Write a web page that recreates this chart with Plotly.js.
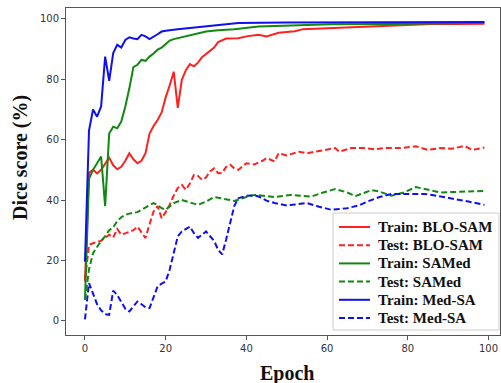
<!DOCTYPE html>
<html><head><meta charset="utf-8">
<script src="https://cdn.plot.ly/plotly-3.0.1.min.js"></script>
<style>html,body{margin:0;padding:0;background:#fff;overflow:hidden}#chart{width:501px;height:383px}</style>
</head><body><div id="chart"></div>
<script>
// Train: BLO-SAM
const trainBLO_x = [0,1,2,3,4,5,6,7,8,9,10,11,12,13,14,15,16,17,18,19,20,21,22,23,24,25,26,27,28,29,30,31,32,33,35,38,40,43,45,48,52,54,58,62,66,70,75,80,86,92,99];
const trainBLO_y = [13,49,50,48.8,50,52,54,51.5,50.2,51,53,55.5,53.5,52.2,53,55.5,62,64.5,66.5,69,74,78,82.5,70.5,79.8,83,85,84.3,85.5,87.3,88.3,89.5,90.5,92.3,93.5,93.6,94.2,94.7,94.2,95.4,95.9,96.6,96.8,96.9,97.3,97.5,97.7,98,98.3,98.3,98.4];
// Test: BLO-SAM
const testBLO_x = [0,1,2,3,4,5,6,7,8,9,10,11,12,13,14,15,16,17,18,19,20,21,22,23,24,25,26,27,28,29,30,31,32,33,34,35,36,37,38,40,42,44,45,47,48,50,53,55,57,60,62,63,66,69,72,74,78,82,85,88,91,94,96,99];
const testBLO_y = [13.6,25.2,25.7,26,26.5,27.5,28.5,27.6,30.4,28.5,29,29.6,30,31.2,29.5,27.4,32,36.2,38,34,36,38.4,41.5,44,45,43.4,45.5,48.3,48,46.7,47.5,49.5,50.5,48.9,49,51,51.7,50.5,50,52.2,51.8,53,53.9,52.8,55.5,54.8,56,55.5,56,56.6,57.2,56,57.2,57.2,56.8,57.2,57.2,57.8,56.6,57.2,57,57.9,56.6,57.4];
// Train: SAMed
const trainSAMed_x = [0,1,2,3,4,5,6,7,8,9,10,11,12,13,14,15,16,17,18,19,20,21,22,23,24,25,27,30,33,37,43,53,61,76,88,99];
const trainSAMed_y = [7,47,50,52,54.4,38,62,64.3,63.8,66,71,77,84,84.8,86.4,86.1,87.5,88.5,89.8,90.5,91.8,92.8,93.3,93.6,93.8,94.3,94.9,95.8,96.2,96.6,97.5,98,98.2,98.3,98.6,98.7];
// Test: SAMed
const testSAMed_x = [0,1,2,3,4,5,6,7,8,9,10,11,12,13,14,15,16,17,18,19,20,21,22,24,26,28,30,32,34,37,40,42,45,47,51,56,59,62,65,67,71,73,76,79,82,85,88,92,95,99];
const testSAMed_y = [7,17,22.4,24.5,26.5,28,30,31,33,34.3,35.1,35.5,35.7,36,36.8,37.5,38.4,39,38.3,37.3,36.8,37.8,39,40,39.2,38.4,39.5,41,40.5,39.7,41,41.7,41.3,41,41.7,41.1,42.5,43.6,42.5,41.3,43.3,42.8,41.4,42.5,44.3,43.5,42.5,42.7,42.8,43];
// Train: Med-SA
const trainMed_x = [0,1,2,3,4,5,6,7,8,9,10,11,12,13,14,15,16,17,18,19,20,23,26,28,31,38,50,70,99];
const trainMed_y = [19.6,63,70,67.6,71,87.5,79.5,88.7,91.4,90.5,93,93.9,93.5,93.3,94.7,94.2,93.3,94,94.9,95.8,96.1,96.6,97,97.5,97.8,98.6,98.8,98.9,99];
// Test: Med-SA
const testMed_x = [0,1,2,3,4,5,6,7,8,9,10,11,12,13,14,15,16,17,18,19,20,21,22,23,24,25,26,27,28,29,30,31,32,33,34,35,36,37,38,40,42,43,45,47,50,53,55,58,61,65,68,70,73,76,80,84,86,89,92,95,99];
const testMed_y = [0.5,12.5,9,5.5,3.5,2.2,2,10,8.5,6,4,3.1,4.8,6.4,5.5,4.5,4.2,8,11.4,12.3,13,17,22.5,28,29.6,30.5,31.2,29,27.5,28.5,29.6,28,26.5,23.5,22,27,33,38,40.6,41.4,41.5,41.2,39.8,39,38.2,38.8,39,37.8,36.8,37.3,38.3,39.5,41,42,42,42,41.7,41,40.3,39.5,38.4];

const names = ['Train: BLO-SAM','Test: BLO-SAM','Train: SAMed','Test: SAMed','Train: Med-SA','Test: Med-SA'];
const xs = [trainBLO_x,testBLO_x,trainSAMed_x,testSAMed_x,trainMed_x,testMed_x];
const ys = [trainBLO_y,testBLO_y,trainSAMed_y,testSAMed_y,trainMed_y,testMed_y];
const colors = ['#ff2020','#ff2020','#118811','#118811','#1010ee','#1010ee'];
const DASH = '6px,3px';

const traces = names.map((n,i)=>({
  x: xs[i], y: ys[i], name: n, type:'scatter', mode:'lines', showlegend:false,
  line:{color:colors[i], width:2, dash: (i%2===1) ? DASH : 'solid'}
}));

// plot area geometry (pixels) for legend placement
const W=501, H=383, ML=66, MR=1, MT=8, MB=48;
const PW=W-ML-MR, PH=H-MT-MB;
const px2x = p => (p-ML)/PW;
const px2y = p => (H-MB-p)/PH;
const serif = 'Liberation Serif, Times New Roman, serif';

const shapes = [{type:'rect', xref:'paper', yref:'paper', x0:px2x(333), x1:px2x(499), y0:px2y(330), y1:px2y(213),
  fillcolor:'#fff', line:{color:'#cccccc', width:1}, layer:'above'}];
const annotations = [
  {text:'Epoch', xref:'paper', yref:'paper', x:px2x(287), y:px2y(373), showarrow:false, xanchor:'center', yanchor:'middle',
   font:{family:serif, size:20, color:'#111', weight:'bold'}},
  {text:'Dice score (%)', xref:'paper', yref:'paper', x:px2x(20), y:px2y(158), showarrow:false, textangle:-90, xanchor:'center', yanchor:'middle',
   font:{family:serif, size:20, color:'#111', weight:'bold'}}
];
names.forEach((n,i)=>{
  const ry = 227 + i*18.2;
  shapes.push({type:'line', xref:'paper', yref:'paper', x0:px2x(339), x1:px2x(370), y0:px2y(ry), y1:px2y(ry),
    line:{color:colors[i], width:2, dash:(i%2===1)?DASH:'solid'}, layer:'above'});
  annotations.push({text:n, xref:'paper', yref:'paper', x:px2x(376), y:px2y(ry), showarrow:false, xanchor:'left', yanchor:'middle',
    font:{family:serif, size:15, color:'#111', weight:'bold'}});
});

const tickFont = {family:'DejaVu Sans, sans-serif', size:10, color:'#333'};
const layout = {
  width:W, height:H,
  margin:{l:ML, r:MR, t:MT, b:MB},
  paper_bgcolor:'#fff', plot_bgcolor:'#fff',
  showlegend:false,
  xaxis:{range:[-4.7,102.85], tickvals:[0,20,40,60,80,100], ticks:'outside', ticklen:4, tickcolor:'#555',
    showline:true, mirror:true, linecolor:'#555', linewidth:1, showgrid:false, zeroline:false, tickfont:tickFont},
  yaxis:{range:[-4.7,103.6], tickvals:[0,20,40,60,80,100], ticks:'outside', ticklen:4, tickcolor:'#555',
    showline:true, mirror:true, linecolor:'#555', linewidth:1, showgrid:false, zeroline:false, tickfont:tickFont},
  shapes: shapes,
  annotations: annotations
};
Plotly.newPlot('chart', traces, layout, {displayModeBar:false, staticPlot:true});
</script></body></html>
